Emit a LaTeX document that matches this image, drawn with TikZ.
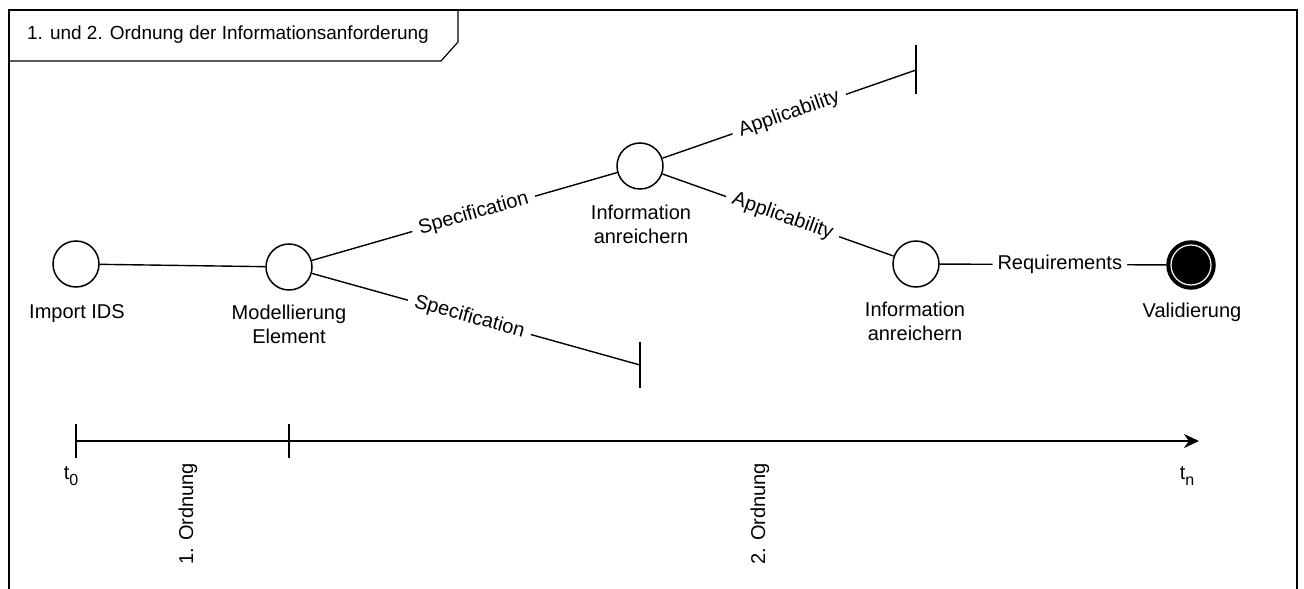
\documentclass[tikz,border=0pt]{standalone}
\usepackage{fontspec}
\setmainfont{Liberation Sans}
\usetikzlibrary{arrows.meta,calc}
\begin{document}
\begin{tikzpicture}[x=1pt,y=-1pt,
  statenode/.style={circle,draw=black,fill=white,line width=1.5pt,minimum size=46pt,inner sep=0pt},
  txt/.style={font=\fontsize{20}{24}\selectfont,align=center,inner sep=0pt},
  conn/.style={draw=black,line width=1.4pt},
  elabel/.style={font=\fontsize{20}{24}\selectfont,fill=white,inner xsep=7pt,inner ysep=3pt,sloped}
]
\useasboundingbox (0,0) rectangle (1304,589);
% frame
\draw[line width=1.2pt] (9,589) -- (9,10) -- (1297,10) -- (1297,589);
\draw[line width=1.2pt] (9,61) -- (441,61) -- (458,42) -- (458,10);
\node[font=\fontsize{19}{22}\selectfont,inner sep=0pt] (title) at (228,35) {1. und 2. Ordnung der Informationsanforderung};

% states
\node[statenode] (imp) at (76,264) {};
\node[statenode] (mod) at (289,267) {};
\node[statenode] (inf1) at (640,166) {};
\node[statenode] (inf2) at (916,264) {};
\node[circle,draw=black,fill=black,line width=2.5pt,minimum size=47pt,inner sep=0pt] (val) at (1191,265) {};
\draw[white,line width=1.2pt] (val.center) circle (20);

% labels
\node[txt,anchor=north] (limp) at (77,304) {Import IDS};
\node[txt,anchor=north] (lmod) at (289,305) {Modellierung\\Element};
\node[txt,anchor=north] (linf1) at (641,205) {Information\\anreichern};
\node[txt,anchor=north] (linf2) at (915,302) {Information\\anreichern};
\node[txt,anchor=north] (lval) at (1192,303) {Validierung};

% dead ends
\coordinate (send) at (640,365);
\coordinate (aend) at (916,70);

% connectors
\draw[conn] (imp) -- (mod);
\draw[conn] (mod) -- node[elabel,pos=0.53] {Specification} (inf1);
\draw[conn] (mod) -- node[elabel,pos=0.48] {Specification} (send);
\draw[conn] (inf1) -- node[elabel,pos=0.5] {Applicability} (aend);
\draw[conn] (inf1) -- node[elabel,pos=0.52] {Applicability} (inf2);
\draw[conn] (inf2) -- node[elabel,pos=0.53,inner xsep=5pt] {Requirements} (val);
\draw[conn] ($(send)+(0,-23)$) -- ($(send)+(0,23)$);
\draw[conn] ($(aend)+(0,-25)$) -- ($(aend)+(0,24)$);

% timeline
\coordinate (t0) at (76,441);
\coordinate (t1) at (289,441);
\coordinate (tn) at (1199,441);
\draw[line width=2pt,-{Stealth[length=15pt,width=14pt]}] (t0) -- (tn);
\draw[line width=1.6pt] ($(t0)+(0,-17)$) -- ($(t0)+(0,17)$);
\draw[line width=1.6pt] ($(t1)+(0,-17)$) -- ($(t1)+(0,17)$);
\node[txt] (lt0) at (71,476) {t\raisebox{-6pt}{\fontsize{16}{16}\selectfont 0}};
\node[txt] (ltn) at (1187,476) {t\raisebox{-6pt}{\fontsize{16}{16}\selectfont n}};
\node[txt,rotate=90] (o1) at (188,514) {1. Ordnung};
\node[txt,rotate=90] (o2) at (760,514) {2. Ordnung};
\end{tikzpicture}
\end{document}
